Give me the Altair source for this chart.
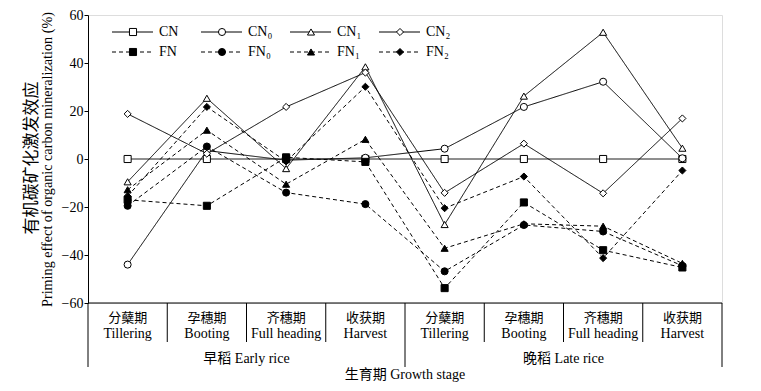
import altair as alt
import pandas as pd

# ---------------- data ----------------
stages_cn = ["分蘖期", "孕穗期", "齐穗期", "收获期", "分蘖期", "孕穗期", "齐穗期", "收获期"]
stages_en = ["Tillering", "Booting", "Full heading", "Harvest",
             "Tillering", "Booting", "Full heading", "Harvest"]
groups = ["早稻 Early rice", "晚稻 Late rice"]
x_title = "生育期 Growth stage"
y_title_cn = "有机碳矿化激发效应"
y_title_en = "Priming effect of organic carbon mineralization (%)"

series = ["CN", "CN0", "CN1", "CN2", "FN", "FN0", "FN1", "FN2"]
series_labels = ["CN", "CN₀", "CN₁", "CN₂", "FN", "FN₀", "FN₁", "FN₂"]

CN  = [0, 0, 0, 0, 0, 0, 0, 0]
CN0 = [-44, 3.5, -0.5, 0.5, 4.3, 21.7, 32.2, 0.3]
CN1 = [-9.5, 25.3, -4, 38.4, -27.3, 26.2, 52.8, 4.5]
CN2 = [18.8, 2.2, 21.7, 36, -14.1, 6.4, -14.3, 16.9]
FN  = [-17, -19.5, 0.7, -1.2, -53.8, -18.1, -38, -45.2]
FN0 = [-19.5, 5.2, -14, -18.8, -46.8, -27.5, -30.2, -44.5]
FN1 = [-12.8, 12, -10.5, 8.2, -37.2, -27, -28, -43.5]
FN2 = [-15.5, 21.7, -1, 30.1, -20.5, -7.3, -41.3, -4.8]

values = [CN, CN0, CN1, CN2, FN, FN0, FN1, FN2]
shapes = ["square", "circle", "triangle-up", "diamond"] * 2

rows = []
for s, vals in zip(series, values):
    for i, v in enumerate(vals):
        rows.append({"series": s, "idx": i, "value": v, "kind": s[0]})
df = pd.DataFrame(rows)

W, H = 634, 288
SERIF = "Liberation Serif, Noto Sans CJK SC"

xscale = alt.Scale(domain=[-0.5, 7.5], nice=False, zero=False)
yscale = alt.Scale(domain=[-60, 60], nice=False)

base = alt.Chart(df)

lines = base.mark_line(color="black", strokeWidth=1).encode(
    x=alt.X("idx:Q", scale=xscale, axis=None),
    y=alt.Y("value:Q", scale=yscale,
            axis=alt.Axis(values=[-60, -40, -20, 0, 20, 40, 60], grid=False,
                          tickSize=4, tickColor="black", domainColor="black",
                          labelFont="Liberation Serif", labelFontSize=14,
                          labelColor="black", labelPadding=1,
                          title=y_title_en, titleFont="Liberation Serif",
                          titleFontSize=14.2, titleFontWeight="normal",
                          titleColor="black", titlePadding=7)),
    detail="series:N",
    strokeDash=alt.StrokeDash("kind:N", scale=alt.Scale(domain=["C", "F"],
                              range=[[1, 0], [4, 3]]), legend=None),
)

points = base.mark_point(filled=True, size=50, stroke="black", strokeWidth=1,
                         opacity=1).encode(
    x=alt.X("idx:Q", scale=xscale),
    y=alt.Y("value:Q", scale=yscale),
    shape=alt.Shape("series:N", scale=alt.Scale(domain=series, range=shapes), legend=None),
    fill=alt.Fill("kind:N", scale=alt.Scale(domain=["C", "F"], range=["white", "black"]),
                  legend=None),
)

one = pd.DataFrame({"a": [0]})

# Chinese line of the y title
ycn = alt.Chart(one).mark_text(font="Noto Sans CJK SC", fontSize=17, angle=270,
                               color="black", baseline="middle").encode(
    x=alt.value(-56), y=alt.value(H / 2 - 1), text=alt.value(y_title_cn))

# x axis line at y = -60
xline = alt.Chart(one).mark_rule(color="black", strokeWidth=1).encode(
    x=alt.datum(-0.5, scale=xscale), x2=alt.datum(7.5), y=alt.datum(-60, scale=yscale))

# table dividers
short_div = pd.DataFrame({"pos": [0.5, 1.5, 2.5, 4.5, 5.5, 6.5]})
long_div = pd.DataFrame({"pos": [-0.5, 3.5, 7.5]})
div_s = alt.Chart(short_div).mark_rule(color="black", strokeWidth=1).encode(
    x=alt.X("pos:Q", scale=xscale), y=alt.value(H), y2=alt.value(H + 39))
div_l = alt.Chart(long_div).mark_rule(color="black", strokeWidth=1).encode(
    x=alt.X("pos:Q", scale=xscale), y=alt.value(H), y2=alt.value(H + 64))

lab_df = pd.DataFrame({"idx": list(range(8)), "cn": stages_cn, "en": stages_en})
lab_cn = alt.Chart(lab_df).mark_text(font="Noto Sans CJK SC", fontSize=13,
                                     color="black", baseline="middle").encode(
    x=alt.X("idx:Q", scale=xscale), y=alt.value(H + 15), text="cn:N")
lab_en = alt.Chart(lab_df).mark_text(font="Liberation Serif", fontSize=14,
                                     color="black", baseline="middle").encode(
    x=alt.X("idx:Q", scale=xscale), y=alt.value(H + 31), text="en:N")

grp_df = pd.DataFrame({"idx": [1.5, 5.5], "g": groups})
grp = alt.Chart(grp_df).mark_text(font=SERIF, fontSize=14, color="black",
                                  baseline="middle").encode(
    x=alt.X("idx:Q", scale=xscale), y=alt.value(H + 56), text="g:N")

ttl_df = pd.DataFrame({"idx": [3.5], "t": [x_title]})
ttl = alt.Chart(ttl_df).mark_text(font=SERIF, fontSize=14, color="black",
                                  baseline="middle").encode(
    x=alt.X("idx:Q", scale=xscale), y=alt.value(H + 72), text="t:N")

# legend (drawn manually)
legend_layers = []
for k, (s, lab) in enumerate(zip(series, series_labels)):
    col, row = k % 4, k // 4
    x0 = 24 + 89 * col
    yy = 17 + 20 * row
    dash = [1, 0] if row == 0 else [4, 3]
    fill = "white" if row == 0 else "black"
    legend_layers.append(alt.Chart(one).mark_rule(color="black", strokeWidth=1,
                                                  strokeDash=dash).encode(
        x=alt.value(x0), x2=alt.value(x0 + 41), y=alt.value(yy)))
    legend_layers.append(alt.Chart(one).mark_point(shape=shapes[k], size=50, filled=True,
                                                   fill=fill, stroke="black",
                                                   strokeWidth=1, opacity=1).encode(
        x=alt.value(x0 + 21), y=alt.value(yy)))
    legend_layers.append(alt.Chart(one).mark_text(font="Liberation Serif, DejaVu Serif",
                                                  fontSize=14, color="black",
                                                  align="left", baseline="middle").encode(
        x=alt.value(x0 + 47), y=alt.value(yy), text=alt.value(lab)))

chart = alt.layer(lines, ycn, xline, div_s, div_l, lab_cn, lab_en, grp, ttl, points,
                  *legend_layers).properties(
    width=W, height=H,
    autosize=alt.AutoSizeParams(type="none"),
    padding={"left": 80, "top": 7, "right": 30, "bottom": 80},
).configure_view(stroke=None).configure(background="white")

chart.save("out.html", embed_options={"renderer": "svg", "actions": False})
